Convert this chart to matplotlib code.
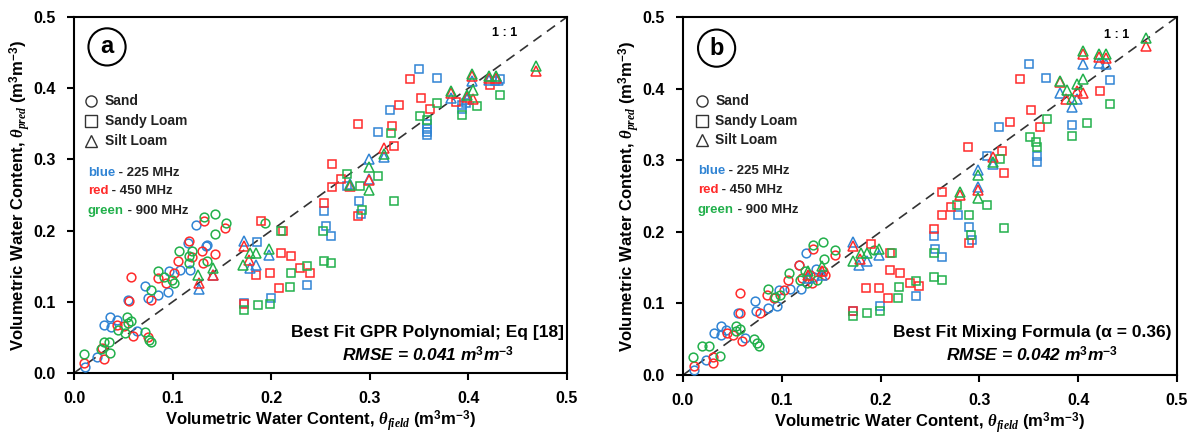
import matplotlib
matplotlib.use("Agg")
import matplotlib.pyplot as plt

plt.rcParams['font.family'] = ['Liberation Sans', 'DejaVu Sans']
plt.rcParams['font.weight'] = 'bold'
plt.rcParams['mathtext.fontset'] = 'custom'
plt.rcParams['mathtext.rm'] = 'Liberation Sans:bold'
plt.rcParams['mathtext.bf'] = 'Liberation Sans:bold'
plt.rcParams['mathtext.it'] = 'Liberation Serif:italic'

BLUE = '#3084d4'
RED = '#ff2a2a'
GREEN = '#22b04b'

# ---------------- Panel a data (theta_field, theta_pred) ----------------
a_sand_blue = [(0.011, 0.008), (0.023, 0.022), (0.030, 0.067), (0.037, 0.079), (0.038, 0.064),
               (0.044, 0.074), (0.055, 0.103), (0.064, 0.059), (0.072, 0.122), (0.075, 0.105),
               (0.085, 0.110), (0.095, 0.114), (0.096, 0.143), (0.107, 0.144), (0.116, 0.183),
               (0.118, 0.144), (0.124, 0.208), (0.134, 0.179), (0.135, 0.180)]
a_sand_red = [(0.010, 0.014), (0.028, 0.035), (0.030, 0.020), (0.044, 0.068), (0.051, 0.066),
              (0.056, 0.101), (0.058, 0.135), (0.060, 0.052), (0.075, 0.050), (0.078, 0.103),
              (0.085, 0.133), (0.093, 0.126), (0.101, 0.141), (0.105, 0.158), (0.117, 0.185),
              (0.120, 0.163), (0.130, 0.172), (0.131, 0.155), (0.132, 0.213), (0.143, 0.167),
              (0.153, 0.204)]
a_sand_green = [(0.010, 0.027), (0.027, 0.034), (0.030, 0.044), (0.036, 0.044), (0.037, 0.028),
                (0.054, 0.079), (0.055, 0.070), (0.058, 0.073), (0.045, 0.060), (0.052, 0.056),
                (0.072, 0.057), (0.076, 0.047), (0.078, 0.044), (0.078, 0.116), (0.085, 0.143),
                (0.091, 0.135), (0.101, 0.127), (0.099, 0.131), (0.106, 0.172), (0.117, 0.155),
                (0.117, 0.165), (0.120, 0.172), (0.132, 0.219), (0.135, 0.157), (0.143, 0.195),
                (0.143, 0.224), (0.154, 0.211), (0.194, 0.211)]

a_sloam_blue = [(0.186, 0.184), (0.172, 0.098), (0.200, 0.105), (0.236, 0.123), (0.254, 0.227),
                (0.256, 0.207), (0.261, 0.193), (0.350, 0.427), (0.368, 0.414), (0.320, 0.370),
                (0.358, 0.350), (0.358, 0.343), (0.358, 0.339), (0.358, 0.334), (0.308, 0.339),
                (0.277, 0.262), (0.289, 0.242), (0.291, 0.224), (0.432, 0.413), (0.427, 0.410),
                (0.394, 0.371), (0.394, 0.376), (0.398, 0.379)]
a_sloam_red = [(0.172, 0.097), (0.185, 0.137), (0.199, 0.140), (0.208, 0.119), (0.210, 0.169),
               (0.220, 0.164), (0.229, 0.148), (0.239, 0.141), (0.212, 0.200), (0.190, 0.213),
               (0.254, 0.239), (0.341, 0.413), (0.352, 0.386), (0.330, 0.376), (0.361, 0.371),
               (0.288, 0.350), (0.323, 0.347), (0.325, 0.319), (0.262, 0.293), (0.271, 0.273),
               (0.262, 0.261), (0.288, 0.220), (0.422, 0.404), (0.387, 0.381)]
a_sloam_green = [(0.172, 0.089), (0.187, 0.095), (0.199, 0.097), (0.210, 0.200), (0.219, 0.121),
                 (0.220, 0.141), (0.236, 0.150), (0.253, 0.200), (0.254, 0.158), (0.261, 0.154),
                 (0.368, 0.379), (0.351, 0.361), (0.358, 0.356), (0.321, 0.337), (0.277, 0.279),
                 (0.308, 0.277), (0.290, 0.262), (0.325, 0.241), (0.292, 0.229), (0.432, 0.391),
                 (0.394, 0.362), (0.409, 0.375)]

a_silt_blue = [(0.127, 0.118), (0.172, 0.186), (0.178, 0.148), (0.185, 0.152), (0.198, 0.166),
               (0.141, 0.137), (0.404, 0.410), (0.421, 0.412), (0.430, 0.412), (0.382, 0.386),
               (0.399, 0.385), (0.314, 0.304), (0.299, 0.300), (0.299, 0.273), (0.280, 0.265)]
a_silt_red = [(0.127, 0.127), (0.172, 0.179), (0.177, 0.159), (0.141, 0.137), (0.404, 0.417),
              (0.421, 0.415), (0.428, 0.415), (0.382, 0.393), (0.399, 0.388), (0.405, 0.385),
              (0.314, 0.316), (0.299, 0.271), (0.280, 0.262), (0.469, 0.424)]
a_silt_green = [(0.126, 0.138), (0.141, 0.148), (0.171, 0.152), (0.178, 0.169), (0.185, 0.169),
                (0.198, 0.174), (0.404, 0.420), (0.421, 0.417), (0.428, 0.417), (0.382, 0.396),
                (0.399, 0.390), (0.405, 0.397), (0.314, 0.308), (0.299, 0.290), (0.299, 0.257),
                (0.280, 0.264), (0.469, 0.431)]

# ---------------- Panel b data ----------------
b_sand_blue = [(0.011, 0.007), (0.023, 0.021), (0.031, 0.059), (0.038, 0.068), (0.038, 0.056),
               (0.044, 0.063), (0.056, 0.087), (0.063, 0.051), (0.073, 0.103), (0.074, 0.089),
               (0.086, 0.093), (0.095, 0.097), (0.097, 0.119), (0.108, 0.120), (0.117, 0.154),
               (0.119, 0.120), (0.124, 0.171), (0.133, 0.137), (0.135, 0.148)]
b_sand_red = [(0.011, 0.013), (0.030, 0.017), (0.030, 0.025), (0.045, 0.058), (0.051, 0.056),
              (0.058, 0.114), (0.058, 0.086), (0.060, 0.047), (0.078, 0.087), (0.085, 0.112),
              (0.092, 0.107), (0.102, 0.119), (0.106, 0.132), (0.117, 0.154), (0.120, 0.136),
              (0.129, 0.139), (0.131, 0.129), (0.132, 0.176), (0.142, 0.145), (0.144, 0.139),
              (0.154, 0.168)]
b_sand_green = [(0.010, 0.025), (0.019, 0.040), (0.026, 0.041), (0.037, 0.027), (0.054, 0.068),
                (0.054, 0.061), (0.058, 0.064), (0.072, 0.050), (0.075, 0.044), (0.077, 0.040),
                (0.086, 0.120), (0.093, 0.109), (0.098, 0.112), (0.107, 0.143), (0.118, 0.133),
                (0.123, 0.145), (0.132, 0.181), (0.142, 0.186), (0.143, 0.162), (0.154, 0.175),
                (0.125, 0.129), (0.136, 0.132), (0.193, 0.174)]

b_sloam_blue = [(0.236, 0.110), (0.199, 0.096), (0.172, 0.090), (0.254, 0.194), (0.255, 0.176),
                (0.262, 0.165), (0.278, 0.224), (0.289, 0.207), (0.293, 0.188), (0.350, 0.435),
                (0.367, 0.415), (0.432, 0.412), (0.320, 0.346), (0.394, 0.349), (0.358, 0.306),
                (0.358, 0.298), (0.308, 0.306)]
b_sloam_red = [(0.190, 0.183), (0.210, 0.171), (0.210, 0.147), (0.220, 0.142), (0.185, 0.121),
               (0.198, 0.121), (0.207, 0.107), (0.230, 0.129), (0.239, 0.124), (0.172, 0.090),
               (0.254, 0.204), (0.262, 0.224), (0.271, 0.235), (0.289, 0.185), (0.341, 0.414),
               (0.422, 0.397), (0.352, 0.370), (0.361, 0.347), (0.331, 0.354), (0.288, 0.318),
               (0.323, 0.313), (0.325, 0.282), (0.262, 0.256)]
b_sloam_green = [(0.212, 0.171), (0.219, 0.123), (0.218, 0.107), (0.236, 0.131), (0.199, 0.089),
                 (0.172, 0.082), (0.186, 0.087), (0.254, 0.171), (0.254, 0.137), (0.262, 0.133),
                 (0.277, 0.238), (0.289, 0.224), (0.292, 0.195), (0.308, 0.238), (0.325, 0.206),
                 (0.432, 0.378), (0.368, 0.357), (0.409, 0.352), (0.394, 0.334), (0.351, 0.333),
                 (0.357, 0.326), (0.358, 0.319), (0.321, 0.302)]

b_silt_blue = [(0.127, 0.135), (0.141, 0.140), (0.172, 0.186), (0.178, 0.154), (0.186, 0.159),
               (0.198, 0.168), (0.405, 0.435), (0.421, 0.436), (0.428, 0.434), (0.382, 0.394),
               (0.399, 0.385), (0.394, 0.374), (0.314, 0.294), (0.299, 0.286), (0.299, 0.263)]
b_silt_red = [(0.127, 0.140), (0.141, 0.145), (0.172, 0.180), (0.179, 0.162), (0.405, 0.448),
              (0.421, 0.444), (0.428, 0.443), (0.382, 0.409), (0.399, 0.397), (0.405, 0.394),
              (0.388, 0.386), (0.314, 0.304), (0.299, 0.259), (0.280, 0.252), (0.469, 0.459)]
b_silt_green = [(0.127, 0.145), (0.141, 0.152), (0.172, 0.159), (0.180, 0.171), (0.186, 0.171),
                (0.198, 0.176), (0.405, 0.452), (0.421, 0.448), (0.428, 0.448), (0.382, 0.411),
                (0.405, 0.414), (0.399, 0.406), (0.389, 0.398), (0.394, 0.385), (0.314, 0.298),
                (0.299, 0.279), (0.299, 0.247), (0.280, 0.255), (0.469, 0.471)]

ticks = [0.0, 0.1, 0.2, 0.3, 0.4, 0.5]
tick_labels = ['0.0', '0.1', '0.2', '0.3', '0.4', '0.5']
freq_labels = [('blue', BLUE, ' - 225 MHz'), ('red', RED, ' - 450 MHz'), ('green', GREEN, ' - 900 MHz')]
soil_labels = [('o', 'Sand'), ('s', 'Sandy Loam'), ('^', 'Silt Loam')]

panels = [
    dict(rect=[74/1199, 1-373/436, (567-74)/1199, (373-17)/436], letter='a',
         series=[('o', a_sand_blue, a_sand_red, a_sand_green),
                 ('s', a_sloam_blue, a_sloam_red, a_sloam_green),
                 ('^', a_silt_blue, a_silt_red, a_silt_green)],
         title='Best Fit GPR Polynomial; Eq [18]', rmse='0.041', tx=0.718, ty1=0.115, ty2=0.051,
         leg=dict(mx=0.034, tx=0.063, ys=[0.764, 0.708, 0.652], fx=0.028, fys=[0.562, 0.511, 0.455],
                  cx=0.067, cy=0.916, ox=0.874, oy=0.955)),
    dict(rect=[683/1199, 1-375/436, (1177-683)/1199, (375-17)/436], letter='b',
         series=[('o', b_sand_blue, b_sand_red, b_sand_green),
                 ('s', b_sloam_blue, b_sloam_red, b_sloam_green),
                 ('^', b_silt_blue, b_silt_red, b_silt_green)],
         title='Best Fit Mixing Formula (\u03b1 = 0.36)', rmse='0.042', tx=0.706, ty1=0.120, ty2=0.056,
         leg=dict(mx=0.039, tx=0.065, ys=[0.766, 0.710, 0.656], fx=0.030, fys=[0.570, 0.517, 0.461],
                  cx=0.068, cy=0.913, ox=0.877, oy=0.950)),
]

fig = plt.figure(figsize=(11.99, 4.36), dpi=100)

for p in panels:
    ax = fig.add_axes(p['rect'])
    ax.set_xlim(0, 0.5)
    ax.set_ylim(0, 0.5)
    ax.plot([0, 0.5], [0, 0.5], color='#333333', lw=1.2, dashes=(6, 4), zorder=1)
    for marker, sb, sr, sg in p['series']:
        for data, col in ((sb, BLUE), (sr, RED), (sg, GREEN)):
            xs = [d[0] for d in data]
            ys = [d[1] for d in data]
            ax.plot(xs, ys, linestyle='none', marker=marker, ms=6.3 if marker != '^' else 6.8,
                    mfc='none', mec=col, mew=1.1, zorder=3)
    ax.set_xticks(ticks)
    ax.set_xticklabels(tick_labels)
    ax.set_yticks(ticks)
    ax.set_yticklabels(tick_labels)
    ax.tick_params(direction='out', length=5, width=1.5, labelsize=11.5)
    ax.tick_params(axis='x', pad=8)
    ax.tick_params(axis='y', pad=8)
    for lab in ax.get_xticklabels() + ax.get_yticklabels():
        lab.set_fontweight('bold')
    for s in ax.spines.values():
        s.set_linewidth(1.5)

    ax.text(0.5, -0.133, 'Volumetric Water Content, $\\theta_{field}$ (m$^{3}$m$^{-3}$)',
            transform=ax.transAxes, ha='center', va='center', fontsize=12, fontweight='bold')
    ax.text(-0.11, 0.5, 'Volumetric Water Content, $\\theta_{pred}$ (m$^{3}$m$^{-3}$)',
            transform=ax.transAxes, ha='center', va='center', rotation=90, fontsize=12,
            fontweight='bold')

    lg = p['leg']
    ax.text(lg['cx'], lg['cy'], p['letter'], transform=ax.transAxes, ha='center', va='center',
            fontsize=17, fontweight='bold',
            bbox=dict(boxstyle='circle,pad=0.3', fc='white', ec='black', lw=1.5))
    for (mk, name), yy in zip(soil_labels, lg['ys']):
        ax.plot([lg['mx']], [yy], transform=ax.transAxes, marker=mk, ms=8, mfc='none',
                mec='#333333', mew=1.0, linestyle='none', clip_on=False)
        ax.text(lg['tx'], yy, name, transform=ax.transAxes, ha='left', va='center',
                fontsize=10, fontweight='bold', color='#222222')
    for (word, col, rest), yy in zip(freq_labels, lg['fys']):
        t = ax.text(lg['fx'], yy, word, transform=ax.transAxes, ha='left', va='center',
                    fontsize=9.5, fontweight='bold', color=col)
        ax.annotate(rest, xy=(1, 0.5), xycoords=t, ha='left', va='center', fontsize=9.5,
                    fontweight='bold', color='#222222')
    ax.text(lg['ox'], lg['oy'], '1 : 1', transform=ax.transAxes, ha='center', va='center',
            fontsize=9, fontweight='bold')
    ax.text(p['tx'], p['ty1'], p['title'], transform=ax.transAxes, ha='center', va='center',
            fontsize=12.5, fontweight='bold')
    ax.text(p['tx'], p['ty2'], 'RMSE = ' + p['rmse'] + ' m$^{3}$m$^{-3}$', transform=ax.transAxes,
            ha='center', va='center', fontsize=12.5, fontweight='bold', fontstyle='italic')

fig.savefig('out.png', dpi=100)
